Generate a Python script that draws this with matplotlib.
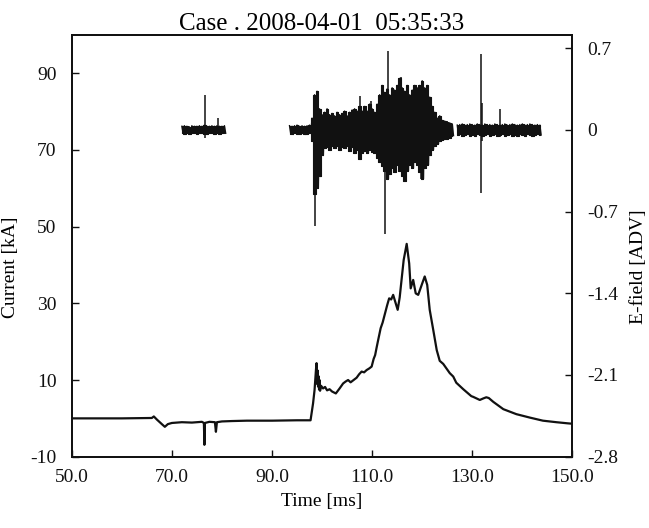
import matplotlib

matplotlib.use("Agg")
import matplotlib.pyplot as plt
import numpy as np

plt.rcParams["font.family"] = ["Liberation Serif", "DejaVu Serif"]
plt.rcParams["axes.unicode_minus"] = False

# lightning current [kA] vs time [ms]
cur_t = [50.0, 60.0, 66.0, 66.4, 67.0, 68.0, 68.6, 69.2, 70.0, 72.0, 74.0, 76.0,
         76.4, 76.5, 76.6, 77.5, 78.6, 78.8, 79.0, 80.0, 82.0, 85.0, 90.0, 95.0,
         97.7, 98.2, 98.5, 98.8, 98.9, 99.0, 99.1, 99.2, 99.3, 99.4, 99.5, 99.6,
         99.8, 100.2, 100.6, 101.0, 101.5, 102.0, 102.75, 103.5, 104.2, 104.7,
         105.2, 105.7, 106.2, 106.9, 107.4, 107.9, 108.4, 108.9, 109.4, 109.9,
         110.3, 110.6, 110.9, 111.2, 111.7, 112.1, 112.5, 113.0, 113.4, 113.8,
         114.2, 114.5, 115.1, 115.5, 115.8, 116.3, 116.9, 117.4, 117.7, 118.2,
         118.7, 119.2, 119.9, 120.5, 121.0, 121.5, 122.2, 122.9, 123.5, 124.2,
         125.5, 126.2, 126.8, 128.2, 129.8, 130.2, 131.5, 132.2, 132.8, 133.3,
         134.2, 136.2, 138.8, 141.5, 144.1, 146.8, 149.1, 150.0]
cur_ka = [0.0, 0.0, 0.1, 0.5, -0.3, -1.5, -2.2, -1.5, -1.2, -1.0, -1.1, -0.9,
          -1.2, -6.9, -1.2, -0.9, -1.0, -3.5, -1.0, -0.8, -0.7, -0.6, -0.6, -0.5,
          -0.5, 3.9, 7.4, 13.0, 14.4, 9.0, 12.5, 8.3, 11.0, 7.5, 10.0, 7.2,
          8.5, 7.8, 8.2, 7.3, 7.6, 7.0, 6.5, 7.8, 9.1, 9.6,
          10.0, 9.4, 9.9, 10.6, 11.5, 12.2, 12.0, 12.6, 13.0, 13.5,
          15.5, 16.5, 18.5, 20.4, 23.5, 25.0, 27.0, 29.5, 31.3, 31.0,
          32.2, 30.9, 28.3, 31.5, 35.2, 41.3, 45.5, 40.4, 33.9, 36.1,
          32.6, 32.2, 34.8, 37.0, 34.8, 28.3, 23.1, 17.8, 15.0, 14.2,
          11.8, 10.9, 9.3, 7.6, 5.8, 5.6, 4.8, 5.2, 5.5, 5.3,
          4.3, 2.4, 1.1, 0.2, -0.6, -1.0, -1.3, -1.4]

# E-field record, three bursts: start time, upper and lower envelope (0.5 ms steps)
seg1_t0 = 72.0
seg1_hi = [0.03, 0.035, 0.03, 0.025, 0.035, 0.03, 0.03, 0.035, 0.03,
           0.04, 0.03, 0.03, 0.035, 0.03, 0.035, 0.03, 0.03, 0.035]
seg1_lo = [-0.03, -0.035, -0.03, -0.035, -0.03, -0.03, -0.035, -0.03, -0.03,
           -0.04, -0.035, -0.03, -0.03, -0.035, -0.03, -0.035, -0.03, -0.03]

seg2_t0 = 93.5
seg2_hi = [0.035, 0.03, 0.035, 0.04, 0.03, 0.035, 0.03, 0.035, 0.04,
           0.1, 0.30, 0.33, 0.18, 0.13, 0.15, 0.18, 0.13, 0.14, 0.12,
           0.15, 0.13, 0.14, 0.16, 0.12, 0.15, 0.17, 0.18, 0.16, 0.2,
           0.16, 0.2, 0.16, 0.22, 0.18, 0.15, 0.22, 0.3, 0.38, 0.32,
           0.35, 0.3, 0.36, 0.34, 0.38, 0.44, 0.36, 0.33, 0.38, 0.3,
           0.34, 0.38, 0.36, 0.38, 0.42, 0.36, 0.38, 0.28, 0.2, 0.15,
           0.1, 0.12, 0.08, 0.075, 0.07, 0.06, 0.05]
seg2_lo = [-0.035, -0.04, -0.03, -0.035, -0.035, -0.03, -0.04, -0.035, -0.03,
           -0.1, -0.55, -0.50, -0.40, -0.22, -0.16, -0.15, -0.17, -0.14, -0.16,
           -0.14, -0.17, -0.15, -0.16, -0.14, -0.18, -0.15, -0.2, -0.17, -0.25,
           -0.2, -0.18, -0.2, -0.17, -0.19, -0.2, -0.24, -0.28, -0.31, -0.35,
           -0.42, -0.38, -0.33, -0.36, -0.3, -0.35, -0.4, -0.44, -0.35, -0.3,
           -0.33, -0.28, -0.3, -0.36, -0.42, -0.33, -0.3, -0.22, -0.17, -0.14,
           -0.12, -0.1, -0.09, -0.08, -0.075, -0.07, -0.05]

seg3_t0 = 127.0
seg3_hi = [0.04, 0.045, 0.05, 0.04, 0.045, 0.05, 0.045, 0.04, 0.05, 0.045,
           0.04, 0.05, 0.045, 0.045, 0.04, 0.05, 0.045, 0.04, 0.045, 0.05,
           0.04, 0.045, 0.05, 0.045, 0.04, 0.045, 0.05, 0.04, 0.045, 0.05,
           0.045, 0.04, 0.045, 0.04]
seg3_lo = [-0.045, -0.04, -0.05, -0.045, -0.04, -0.05, -0.045, -0.05, -0.04, -0.045,
           -0.05, -0.045, -0.04, -0.05, -0.045, -0.04, -0.05, -0.045, -0.04, -0.05,
           -0.045, -0.04, -0.05, -0.045, -0.05, -0.04, -0.045, -0.05, -0.04, -0.045,
           -0.05, -0.045, -0.04, -0.045]

# isolated E-field spikes: time, top, bottom
spike_t = [76.6, 79.3, 98.6, 107.5, 107.7, 109.7, 112.5, 113.2, 115.7, 119.8,
           131.7, 131.9, 135.6]
spike_top = [0.30, 0.10, 0.05, 0.29, 0.05, 0.25, 0.0, 0.675, 0.45, 0.1,
             0.65, 0.23, 0.18]
spike_bot = [-0.07, -0.02, -0.82, -0.1, -0.25, -0.05, -0.895, 0.0, -0.1, -0.42,
             -0.54, -0.1, -0.06]

x_ticks = [50, 70, 90, 110, 130, 150]
cur_ticks = [-10, 10, 30, 50, 70, 90]
e_ticks = [0.7, 0, -0.7, -1.4, -2.1, -2.8]
e_labels = ["0.7", "0", "-0.7", "-1.4", "-2.1", "-2.8"]

ink = "#111111"

fig = plt.figure(figsize=(6.49, 5.28), dpi=100)
ax = fig.add_axes([0.1105, 0.135, 0.7715, 0.799])
ax2 = ax.twinx()

ax.plot(cur_t, cur_ka, color=ink, lw=1.6, solid_joinstyle="round")

# each burst: filled band between its envelopes plus a zigzag for texture
for t0, hi, lo in [(seg1_t0, seg1_hi, seg1_lo), (seg2_t0, seg2_hi, seg2_lo),
                   (seg3_t0, seg3_hi, seg3_lo)]:
    t = t0 + 0.5 * np.arange(len(hi))
    ax2.fill_between(t, lo, hi, step="mid", facecolor=ink, edgecolor=ink, lw=0.8)
    xs = np.column_stack((t, t + 0.25)).ravel()
    ys = np.column_stack((hi, lo)).ravel()
    ax2.plot(xs, ys, color=ink, lw=1.0)
ax2.vlines(spike_t, spike_bot, spike_top, color=ink, lw=1.1)

ax.set_xlim(50, 150)
ax.set_ylim(-10, 100)
ax2.set_ylim(-2.8, 0.813)

ax.set_xticks(x_ticks)
ax.set_xticklabels([f"{v:.1f}" for v in x_ticks])
ax.set_yticks(cur_ticks)
ax2.set_yticks(e_ticks)
ax2.set_yticklabels(e_labels)

for a in (ax, ax2):
    a.tick_params(direction="in", length=5, width=1.0, labelsize=14, colors=ink)
    for sp in a.spines.values():
        sp.set_linewidth(1.3)
        sp.set_color(ink)
ax.tick_params(axis="x", pad=9)
ax.tick_params(axis="y", pad=11)
ax2.tick_params(axis="y", pad=11)

ax.set_xlabel("Time [ms]", fontsize=14, labelpad=5)
ax.set_ylabel("Current [kA]", fontsize=14)
ax.yaxis.set_label_coords(-0.105, 0.45)
ax2.set_ylabel("E-field [ADV]", fontsize=14)
ax2.yaxis.set_label_coords(1.115, 0.45)
ax.set_title("Case . 2008-04-01  05:35:33", fontsize=18, pad=3)

fig.savefig("out.png", dpi=100, facecolor="white")
